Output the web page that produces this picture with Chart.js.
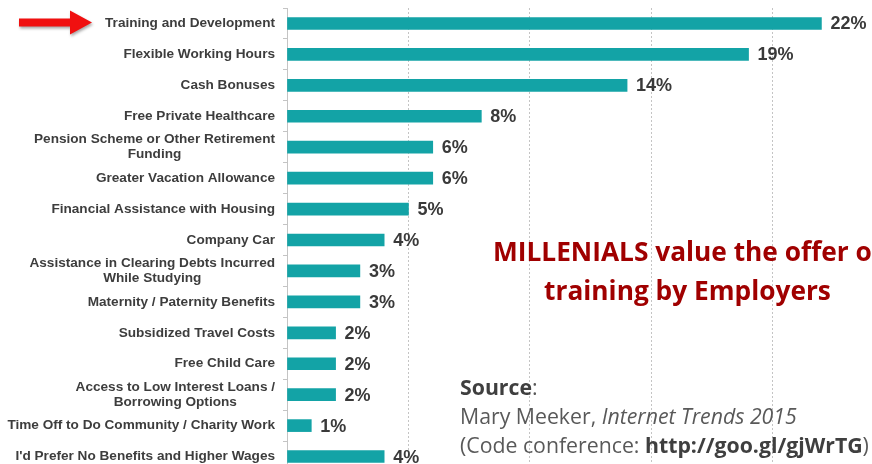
<!DOCTYPE html>
<html>
<head>
<meta charset="utf-8">
<script src="https://cdn.jsdelivr.net/npm/chart.js@4.4.1/dist/chart.umd.min.js"></script>
<style>
  html, body { margin: 0; padding: 0; width: 872px; height: 464px; overflow: hidden; background: #fff; }
  #wrap { position: relative; width: 872px; height: 472px; }
</style>
</head>
<body>
<div id="wrap"><canvas id="chart"></canvas></div>
<script>
// ── data ─────────────────────────────────────
const categories = [
  ['Training and Development'],
  ['Flexible Working Hours'],
  ['Cash Bonuses'],
  ['Free Private Healthcare'],
  ['Pension Scheme or Other Retirement', 'Funding'],
  ['Greater Vacation Allowance'],
  ['Financial Assistance with Housing'],
  ['Company Car'],
  ['Assistance in Clearing Debts Incurred', 'While Studying'],
  ['Maternity / Paternity Benefits'],
  ['Subsidized Travel Costs'],
  ['Free Child Care'],
  ['Access to Low Interest Loans /', 'Borrowing Options'],
  ['Time Off to Do Community / Charity Work'],
  ["I'd Prefer No Benefits and Higher Wages"]
];
const values = [22, 19, 14, 8, 6, 6, 5, 4, 3, 3, 2, 2, 2, 1, 4];
const gridTicks = [5, 10, 15, 20];

const titleLines = ['MILLENIALS value the offer of', 'training by Employers'];
const sourceLines = [
  [['Source', 'bold'], [':', 'normal']],
  [['Mary Meeker, ', 'normal'], ['Internet Trends 2015', 'italic']],
  [['(Code conference: ', 'normal'], ['http://goo.gl/gjWrTG', 'bold'], [')', 'normal']]
];

// ── helpers ──────────────────────────────────
function runsWidth(ctx, runs, size) {
  let w = 0;
  runs.forEach(([t, st]) => {
    ctx.font = `${st} ${size}px "Open Sans"`;
    w += ctx.measureText(t).width;
  });
  return w;
}

function drawRuns(ctx, runs, x, y, size) {
  let cx = x;
  runs.forEach(([t, st]) => {
    ctx.font = `${st} ${size}px "Open Sans"`;
    ctx.fillStyle = st === 'bold' ? '#3f3f3f' : '#595959';
    ctx.fillText(t, cx, y);
    cx += ctx.measureText(t).width;
  });
}

const overlay = {
  id: 'overlay',
  afterDraw(chart) {
    const ctx = chart.ctx;
    const yScale = chart.scales.y;
    ctx.save();

    // category labels, lines centred on each other, block right aligned
    ctx.font = 'bold 13.6px "Liberation Sans", Arial, sans-serif';
    ctx.fillStyle = '#3d3d3d';
    ctx.textAlign = 'center';
    ctx.textBaseline = 'middle';
    categories.forEach((lines, i) => {
      const y = yScale.getPixelForValue(i);
      const maxW = Math.max(...lines.map(l => ctx.measureText(l).width));
      const cx = 275 - maxW / 2;
      lines.forEach((l, j) => {
        ctx.fillText(l, cx, y + (j - (lines.length - 1) / 2) * 15);
      });
    });

    // value labels
    ctx.font = 'bold 18px "Liberation Sans", Arial, sans-serif';
    ctx.fillStyle = '#3a3a3a';
    ctx.textAlign = 'left';
    chart.getDatasetMeta(0).data.forEach((bar, i) => {
      ctx.fillText(values[i] + '%', bar.x + 9, bar.y + 1);
    });

    // red arrow
    ctx.save();
    ctx.shadowColor = 'rgba(0,0,0,0.35)';
    ctx.shadowBlur = 3;
    ctx.shadowOffsetX = 1;
    ctx.shadowOffsetY = 2;
    ctx.fillStyle = '#f01010';
    ctx.beginPath();
    ctx.moveTo(19, 18.5);
    ctx.lineTo(70, 18.5);
    ctx.lineTo(70, 10.5);
    ctx.lineTo(92, 22.5);
    ctx.lineTo(70, 34.5);
    ctx.lineTo(70, 26.5);
    ctx.lineTo(19, 26.5);
    ctx.closePath();
    ctx.fill();
    ctx.restore();

    // title
    ctx.font = 'bold 100px "Open Sans"';
    const tSize = 100 * 287 / ctx.measureText(titleLines[1]).width;
    ctx.font = `bold ${tSize}px "Open Sans"`;
    ctx.fillStyle = '#a00000';
    ctx.textAlign = 'center';
    ctx.textBaseline = 'alphabetic';
    ctx.fillText(titleLines[0], 687.5, 261);
    ctx.fillText(titleLines[1], 687.5, 300);

    // source
    const sSize = 20 * 337 / runsWidth(ctx, sourceLines[1], 20);
    ctx.textAlign = 'left';
    [395, 424, 453].forEach((y, k) => drawRuns(ctx, sourceLines[k], 460, y, sSize));

    ctx.restore();
  }
};

new Chart(document.getElementById('chart'), {
  type: 'bar',
  data: {
    labels: categories,
    datasets: [{
      data: values,
      backgroundColor: '#13a3a6',
      borderWidth: 0,
      barThickness: 12
    }]
  },
  options: {
    indexAxis: 'y',
    responsive: true,
    maintainAspectRatio: false,
    animation: false,
    layout: { padding: { top: 8, right: 2, left: 0, bottom: 0 } },
    plugins: { legend: { display: false }, tooltip: { enabled: false } },
    scales: {
      x: {
        min: 0,
        max: 24,
        ticks: { display: false, stepSize: 5 },
        grid: {
          color: c => gridTicks.includes(c.tick && c.tick.value) ? '#c4c4c4' : 'rgba(0,0,0,0)',
          drawTicks: false
        },
        border: { display: false, dash: [2, 2] },
        afterFit: s => { s.height = 0; }
      },
      y: {
        ticks: { display: false },
        grid: { drawOnChartArea: false, drawTicks: true, tickLength: 4, color: '#c4c4c4', offset: true },
        border: { display: true, color: '#c4c4c4' },
        afterFit: s => { s.width = 287; }
      }
    }
  },
  plugins: [overlay]
});
</script>
</body>
</html>
